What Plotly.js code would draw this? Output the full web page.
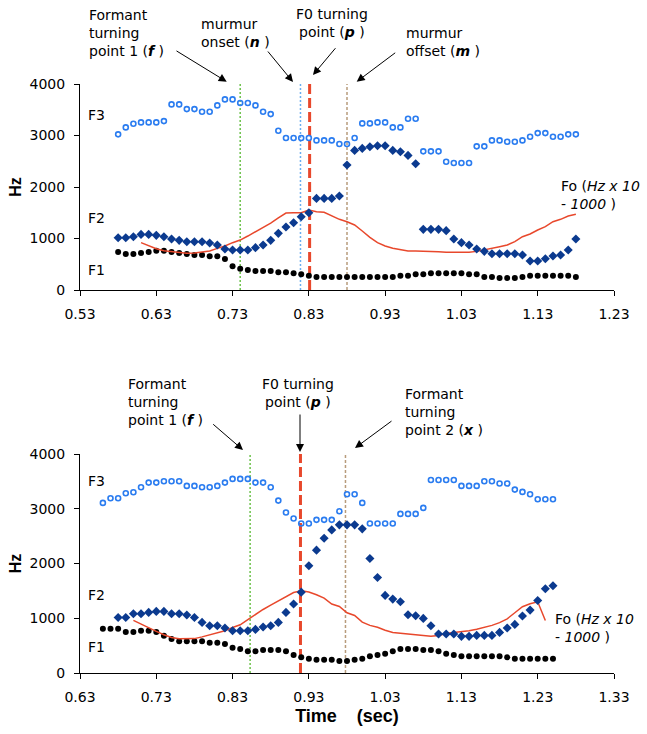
<!DOCTYPE html>
<html><head><meta charset="utf-8">
<script src="https://cdn.plot.ly/plotly-3.0.1.min.js"></script>
<style>html,body{margin:0;padding:0;background:#fff}#chart{width:647px;height:734px}</style>
</head><body><div id="chart"></div><script>
// ---------- DATA ----------
const T_TOP = [0.58,0.59,0.60,0.61,0.62,0.63,0.64,0.65,0.66,0.67,0.68,0.69,0.70,0.71,0.72,0.73,0.74,0.75,0.76,0.77,0.78,0.79,0.80,0.81,0.82,0.83,0.84,0.85,0.86,0.87,0.88,0.89,0.90,0.91,0.92,0.93,0.94,0.95,0.96,0.97,0.98,0.99,1.00,1.01,1.02,1.03,1.04,1.05,1.06,1.07,1.08,1.09,1.10,1.11,1.12,1.13,1.14,1.15,1.16,1.17,1.18];
const F1_TOP = [738,699,699,718,738,764,764,738,718,699,680,680,654,654,602,459,414,388,369,369,369,343,343,324,304,278,252,252,252,252,252,252,252,252,252,252,252,278,278,304,304,324,324,324,324,324,304,304,252,252,233,233,233,252,278,278,278,278,278,278,252];
const F2_TOP = [1016,1016,1035,1080,1080,1061,1035,990,964,938,938,938,912,873,796,776,776,776,822,873,964,1100,1223,1307,1423,1501,1779,1779,1779,1825,2426,2711,2750,2782,2802,2802,2711,2685,2614,2452,1178,1178,1178,1152,990,919,873,796,750,705,705,705,705,680,563,563,608,660,680,776,990];
const F3_TOP = [3022,3157,3228,3254,3254,3254,3280,3604,3604,3513,3513,3461,3461,3584,3701,3701,3630,3630,3584,3461,3416,3093,2950,2950,2950,2950,2905,2905,2905,2834,2834,2950,3235,3235,3254,3254,3157,3157,3326,3326,2692,2692,2692,2491,2465,2465,2465,2789,2789,2905,2905,2879,2879,2905,2976,3047,3047,2976,2976,3022,3022];
const T_FO_TOP = [0.61,0.62,0.63,0.64,0.65,0.66,0.67,0.68,0.69,0.70,0.71,0.72,0.73,0.74,0.75,0.76,0.77,0.78,0.79,0.80,0.81,0.82,0.83,0.84,0.85,0.86,0.87,0.88,0.89,0.90,0.91,0.92,0.93,0.94,0.95,0.96,0.97,0.98,0.99,1.00,1.01,1.02,1.03,1.04,1.05,1.06,1.07,1.08,1.09,1.10,1.11,1.12,1.13,1.14,1.15,1.16,1.17,1.18];
const FO_TOP = [919,860,802,763,744,725,712,718,731,757,809,854,919,970,1048,1132,1210,1300,1400,1495,1501,1501,1553,1520,1508,1436,1372,1326,1262,1145,1022,919,854,809,783,757,757,757,757,744,731,731,731,731,750,776,809,841,873,938,1035,1087,1165,1229,1326,1372,1436,1469];

const T_BOT = [0.66,0.67,0.68,0.69,0.70,0.71,0.72,0.73,0.74,0.75,0.76,0.77,0.78,0.79,0.80,0.81,0.82,0.83,0.84,0.85,0.86,0.87,0.88,0.89,0.90,0.91,0.92,0.93,0.94,0.95,0.96,0.97,0.98,0.99,1.00,1.01,1.02,1.03,1.04,1.05,1.06,1.07,1.08,1.09,1.10,1.11,1.12,1.13,1.14,1.15,1.16,1.17,1.18,1.19,1.20,1.21,1.22,1.23,1.24,1.25];
const F1_BOT = [809,809,809,748,748,772,772,748,681,620,578,578,578,578,553,553,529,462,438,395,395,420,420,420,395,328,286,261,243,243,243,219,219,243,261,304,328,353,395,438,438,438,420,420,395,353,328,304,304,304,304,304,304,286,261,261,261,261,261,261];
const F2_BOT = [null,null,1015,1015,1082,1082,1107,1125,1125,1082,1082,1058,1015,924,863,863,821,772,772,772,796,839,863,924,1107,1259,1477,1958,2244,2462,2614,2706,2706,2706,2633,2092,1745,1417,1350,1301,1064,1046,997,863,711,711,711,669,669,687,687,687,742,821,888,1040,1149,1325,1538,1593];
const F3_BOT = [3107,3192,3192,3283,3301,3393,3478,3478,3502,3502,3502,3417,3417,3393,3393,3417,3478,3545,3545,3545,3478,3478,3393,3149,2931,2821,2730,2730,2797,2797,2797,2955,3265,3265,3107,2730,2730,2730,2730,2906,2906,2906,3016,3526,3526,3526,3526,3417,3417,3417,3502,3502,3460,3460,3350,3308,3265,3174,3174,3174];
const T_FO_BOT = [0.70,0.71,0.72,0.73,0.74,0.75,0.76,0.77,0.78,0.79,0.80,0.81,0.82,0.83,0.84,0.85,0.86,0.87,0.88,0.89,0.90,0.91,0.92,0.93,0.94,0.95,0.96,0.97,0.98,0.99,1.00,1.01,1.02,1.03,1.04,1.05,1.06,1.07,1.08,1.09,1.10,1.11,1.12,1.13,1.14,1.15,1.16,1.17,1.18,1.19,1.20,1.21,1.22,1.23,1.24];
const FO_BOT = [960,890,820,760,700,650,625,620,628,660,700,735,770,830,880,975,1070,1160,1240,1320,1400,1470,1502,1480,1430,1368,1260,1216,1100,1050,930,870,835,780,740,725,710,700,690,672,685,720,740,752,770,800,830,870,920,990,1100,1210,1265,1300,960];

// event times (vertical marker lines)
const EVENTS_TOP = {f:0.740, n:0.819, p:0.831, m:0.880};
const EVENTS_BOT = {f:0.853, p:0.919, x:0.978};

const XTICK_TOP = ['0.53','0.63','0.73','0.83','0.93','1.03','1.13','1.23'];
const XTICK_BOT = ['0.63','0.73','0.83','0.93','1.03','1.13','1.23','1.33'];
const YTICK = ['0','1000','2000','3000','4000'];

// ---------- STYLE ----------
const FONT = 'DejaVu Sans, Verdana, sans-serif';
const BFONT = 'Liberation Sans, Arial, sans-serif';
const W=647, H=734, L=80, R=33, T=84, B=61;
const PW=W-L-R, PH=H-T-B;
const px = x => (x-L)/PW;
const py = y => (H-B-y)/PH;

const C_F1='#000000', C_F2='#0b3a8f', C_F3='#2a7cf0', C_FO='#e8482c';

function formantTraces(t, f1, f2, f3, tfo, fo, xa, ya){
  return [
    {x:t, y:f3, xaxis:xa, yaxis:ya, type:'scatter', mode:'markers', cliponaxis:false,
     marker:{symbol:'circle-open', size:5, color:C_F3, line:{width:1.6, color:C_F3}}, name:'F3', showlegend:false},
    {x:t, y:f1, xaxis:xa, yaxis:ya, type:'scatter', mode:'markers', cliponaxis:false,
     marker:{symbol:'circle', size:6, color:C_F1}, name:'F1', showlegend:false},
    {x:tfo, y:fo, xaxis:xa, yaxis:ya, type:'scatter', mode:'lines', cliponaxis:false,
     line:{color:C_FO, width:1.5}, name:'Fo', showlegend:false},
    {x:t, y:f2, xaxis:xa, yaxis:ya, type:'scatter', mode:'markers', cliponaxis:false,
     marker:{symbol:'diamond', size:7, color:C_F2}, name:'F2', showlegend:false}
  ];
}

const data = [
  ...formantTraces(T_TOP, F1_TOP, F2_TOP, F3_TOP, T_FO_TOP, FO_TOP, 'x', 'y'),
  ...formantTraces(T_BOT, F1_BOT, F2_BOT, F3_BOT, T_FO_BOT, FO_BOT, 'x2', 'y2')
];

const axisCommon = {showgrid:false, zeroline:false, showline:true, linecolor:'#000', linewidth:1,
  ticks:'outside', ticklen:5, tickcolor:'#000', tickwidth:1,
  tickfont:{family:FONT, size:14, color:'#000'}, fixedrange:true};

function vline(xref, yref, x, color, width, dash, y1){
  return {type:'line', xref:xref, yref:yref, x0:x, x1:x, y0:0, y1:y1||4000, layer:'below',
    line:{color:color, width:width, dash:dash}};
}

const shapes = [
  vline('x','y',EVENTS_TOP.f,'#6cc24a',1.5,'2px,2px'),
  vline('x','y',EVENTS_TOP.n,'#6aaef0',1.5,'2px,2px'),
  vline('x','y',EVENTS_TOP.p,'#e8482c',3,'10px,4px',4150),
  vline('x','y',EVENTS_TOP.m,'#b89c7c',1.5,'3px,2px'),
  vline('x2','y2',EVENTS_BOT.f,'#6cc24a',1.5,'2px,2px'),
  vline('x2','y2',EVENTS_BOT.p,'#e8482c',3,'10px,4px'),
  vline('x2','y2',EVENTS_BOT.x,'#b89c7c',1.5,'3px,2px')
];

const tf = {family:FONT, size:14, color:'#000'};
function label(text, x, y, xanchor, align){
  return {text:text, xref:'paper', yref:'paper', x:px(x), y:py(y), xanchor:xanchor||'left', yanchor:'middle',
    align:align||'left', showarrow:false, font:tf};
}
function arrow(hx, hy, tx, ty){
  return {text:'', xref:'paper', yref:'paper', x:px(hx), y:py(hy), ax:tx-hx, ay:ty-hy,
    showarrow:true, arrowhead:2, arrowsize:1.6, arrowwidth:1, arrowcolor:'#000', standoff:0};
}

const annotations = [
  // top chart
  label('Formant<br>turning<br>point 1 (<b><i>f</i></b> )', 87, 33),
  label('murmur<br>onset (<b><i>n</i></b> )', 199, 32.5),
  label('F0 turning<br>point (<b><i>p</i></b> )', 332, 23.5, 'center', 'center'),
  label('murmur<br>offset (<b><i>m</i></b> )', 404, 42.5),
  arrow(226.7, 81.7, 175, 50),
  arrow(293, 82, 266.7, 50),
  arrow(313, 75, 336.7, 46.7),
  arrow(356.7, 81.7, 396.7, 51.7),
  label('F3', 86, 115), label('F2', 86, 218), label('F1', 86, 270),
  label('Fo (<i>Hz x 10</i><br>- <i>1000</i> )', 559, 194.5),
  // bottom chart
  label('Formant<br>turning<br>point 1 (<b><i>f</i></b> )', 126, 402),
  label('F0 turning<br>point (<b><i>p</i></b> )', 298, 392.5, 'center', 'center'),
  label('Formant<br>turning<br>point 2 (<b><i>x</i></b> )', 403, 412),
  arrow(243, 450, 211.7, 423),
  arrow(300, 452, 300, 413),
  arrow(355, 448, 393, 420),
  label('F3', 86, 481), label('F2', 86, 595), label('F1', 86, 647),
  label('Fo (<i>Hz x 10</i><br>- <i>1000</i> )', 553, 627.5)
];

const layout = {
  width:W, height:H, margin:{l:L, r:R, t:T, b:B, pad:0},
  paper_bgcolor:'#fff', plot_bgcolor:'#fff', showlegend:false,
  font:{family:FONT, size:14, color:'#000'},
  xaxis:{...axisCommon, domain:[0,1], anchor:'y', range:[0.53,1.23],
    tickvals:XTICK_TOP.map(Number), ticktext:XTICK_TOP, ticklabelstandoff:6},
  yaxis:{...axisCommon, domain:[py(290),1], anchor:'x', range:[0,4000],
    tickvals:YTICK.map(Number), ticktext:YTICK, ticklabelstandoff:6,
    title:{text:'<b>Hz</b>', font:{family:BFONT, size:16, color:'#000'}, standoff:3}},
  xaxis2:{...axisCommon, domain:[0,1], anchor:'y2', range:[0.63,1.33],
    tickvals:XTICK_BOT.map(Number), ticktext:XTICK_BOT, ticklabelstandoff:6,
    title:{text:'<b>Time\u00a0\u00a0\u00a0 (sec)</b>', font:{family:BFONT, size:18, color:'#000'}, standoff:5}},
  yaxis2:{...axisCommon, domain:[0,py(454)], anchor:'x2', range:[0,4000],
    tickvals:YTICK.map(Number), ticktext:YTICK, ticklabelstandoff:6,
    title:{text:'<b>Hz</b>', font:{family:BFONT, size:16, color:'#000'}, standoff:3}},
  shapes:shapes,
  annotations:annotations
};

Plotly.newPlot('chart', data, layout, {displayModeBar:false, staticPlot:true});
</script></body></html>
